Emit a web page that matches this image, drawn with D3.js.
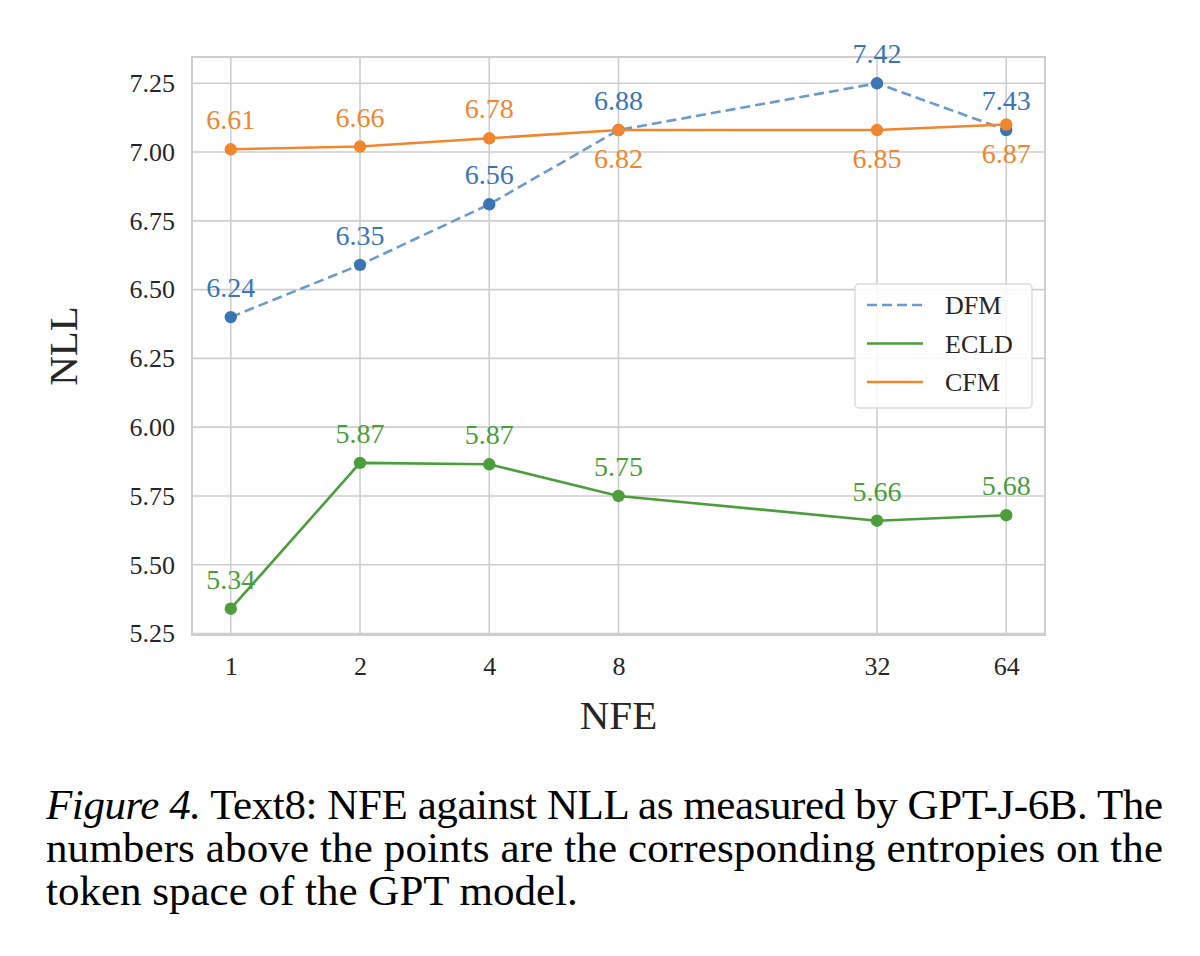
<!DOCTYPE html>
<html>
<head>
<meta charset="utf-8">
<script src="https://cdn.jsdelivr.net/npm/d3@7"></script>
<style>
  body { margin: 0; background: #fff; }
  svg text { font-family: "Liberation Serif", "DejaVu Serif", serif; }
</style>
</head>
<body>
<svg id="chart" width="1200" height="956"></svg>
<script>
// DATA
const nfe = [1, 2, 4, 8, 32, 64];
const yTicks = [5.25, 5.5, 5.75, 6.0, 6.25, 6.5, 6.75, 7.0, 7.25];

const dfmNll = [6.40, 6.59, 6.81, 7.08, 7.25, 7.08];
const dfmEntropy = ["6.24", "6.35", "6.56", "6.88", "7.42", "7.43"];

const ecldNll = [5.34, 5.87, 5.865, 5.75, 5.66, 5.68];
const ecldEntropy = ["5.34", "5.87", "5.87", "5.75", "5.66", "5.68"];

const cfmNll = [7.01, 7.02, 7.05, 7.08, 7.08, 7.10];
const cfmEntropy = ["6.61", "6.66", "6.78", "6.82", "6.85", "6.87"];
const cfmLabelSide = ["above", "above", "above", "below", "below", "below"];

const series = [
    { name: "DFM", values: dfmNll, labels: dfmEntropy, color: "#3a76b5", lineColor: "#6a9bc9", dash: "10,5" },
    { name: "ECLD", values: ecldNll, labels: ecldEntropy, color: "#4b9e3b", lineColor: "#4b9e3b", dash: null },
    { name: "CFM", values: cfmNll, labels: cfmEntropy, color: "#f0862e", lineColor: "#f0862e", dash: null, side: cfmLabelSide }
];

const margin = { left: 192, right: 155, top: 57, bottom: 321 };
const width = 1200, height = 956;

const svg = d3.select("svg#chart");

// SCALES
const xScale = d3.scaleLog().base(2)
    .domain([Math.pow(2, -0.3), Math.pow(2, 6.3)])
    .range([margin.left, width - margin.right]);

const yScale = d3.scaleLinear()
    .domain([5.2445, 7.3455])
    .range([height - margin.bottom, margin.top]);

// GRID
const grid = svg.append("g").attr("stroke", "#cecece").attr("stroke-width", 1.6);
grid.selectAll("line.v").data(nfe).join("line")
    .attr("class", "v")
    .attr("x1", d => xScale(d)).attr("x2", d => xScale(d))
    .attr("y1", margin.top).attr("y2", height - margin.bottom);
grid.selectAll("line.h").data(yTicks).join("line")
    .attr("class", "h")
    .attr("x1", margin.left).attr("x2", width - margin.right)
    .attr("y1", d => yScale(d)).attr("y2", d => yScale(d));

svg.append("rect")
    .attr("x", margin.left).attr("y", margin.top)
    .attr("width", width - margin.left - margin.right)
    .attr("height", height - margin.top - margin.bottom)
    .attr("fill", "none").attr("stroke", "#cecece").attr("stroke-width", 2);

// AXIS
const xAxis = g => g.attr("transform", `translate(0, ${height - margin.bottom})`)
    .call(d3.axisBottom(xScale).tickValues(nfe).tickFormat(d3.format("d")).tickSize(0).tickPadding(22))
    .call(g => g.select(".domain").remove());

const yAxis = g => g.attr("transform", `translate(${margin.left},0)`)
    .call(d3.axisLeft(yScale).tickValues(yTicks).tickFormat(d3.format(".2f")).tickSize(0).tickPadding(17))
    .call(g => g.select(".domain").remove());

svg.append("g").call(xAxis)
    .selectAll("text").attr("font-size", 26).attr("fill", "#262626")
    .attr("font-family", "Liberation Serif");
svg.append("g").call(yAxis)
    .selectAll("text").attr("font-size", 26).attr("fill", "#262626")
    .attr("font-family", "Liberation Serif");

svg.append("text")
    .attr("x", (margin.left + width - margin.right) / 2).attr("y", 729)
    .attr("text-anchor", "middle").attr("font-size", 41).attr("fill", "#262626")
    .text("NFE");

svg.append("text")
    .attr("transform", `translate(77, ${(margin.top + height - margin.bottom) / 2}) rotate(-90)`)
    .attr("text-anchor", "middle").attr("font-size", 41).attr("fill", "#262626")
    .text("NLL");

// LINES + POINTS
const line = d3.line().x((d, i) => xScale(nfe[i])).y(d => yScale(d));

series.forEach(s => {
    svg.append("path")
        .attr("d", line(s.values))
        .attr("fill", "none")
        .attr("stroke", s.lineColor)
        .attr("stroke-width", 2.6)
        .attr("stroke-dasharray", s.dash);
    svg.append("g").selectAll("circle")
        .data(s.values)
        .join("circle")
        .attr("cx", (d, i) => xScale(nfe[i]))
        .attr("cy", d => yScale(d))
        .attr("r", 6.2)
        .attr("fill", s.color);
});

// ENTROPY LABELS
series.forEach(s => {
    svg.append("g").selectAll("text")
        .data(s.values)
        .join("text")
        .attr("x", (d, i) => xScale(nfe[i]))
        .attr("y", (d, i) => yScale(d) + ((s.side && s.side[i] === "below") ? 38 : -20))
        .attr("text-anchor", "middle")
        .attr("font-size", 28)
        .attr("fill", s.color)
        .text((d, i) => s.labels[i]);
});

// LEGEND
const legend = svg.append("g").attr("transform", "translate(855, 284)");
legend.append("rect")
    .attr("width", 177).attr("height", 124).attr("rx", 4)
    .attr("fill", "#fff").attr("fill-opacity", 0.85)
    .attr("stroke", "#dcdcdc").attr("stroke-width", 1.5);
const items = legend.selectAll("g.item").data(series).join("g")
    .attr("class", "item")
    .attr("transform", (d, i) => `translate(0, ${21 + i * 38.5})`);
items.append("line")
    .attr("x1", 12).attr("x2", 68)
    .attr("stroke", d => d.lineColor).attr("stroke-width", 2.6)
    .attr("stroke-dasharray", d => d.dash);
items.append("text")
    .attr("x", 90).attr("y", 9)
    .attr("font-size", 26).attr("fill", "#262626")
    .text(d => d.name);

// CAPTION
const caption = svg.append("g").attr("font-size", 43).attr("fill", "#000");
const l1 = caption.append("text").attr("x", 46).attr("y", 819)
    .attr("textLength", 1117).attr("lengthAdjust", "spacing");
l1.append("tspan").attr("font-style", "italic").text("Figure 4.");
l1.append("tspan").text(" Text8: NFE against NLL as measured by GPT-J-6B. The");
caption.append("text").attr("x", 46).attr("y", 862)
    .attr("textLength", 1117).attr("lengthAdjust", "spacing")
    .text("numbers above the points are the corresponding entropies on the");
caption.append("text").attr("x", 46).attr("y", 905)
    .text("token space of the GPT model.");
</script>
</body>
</html>
